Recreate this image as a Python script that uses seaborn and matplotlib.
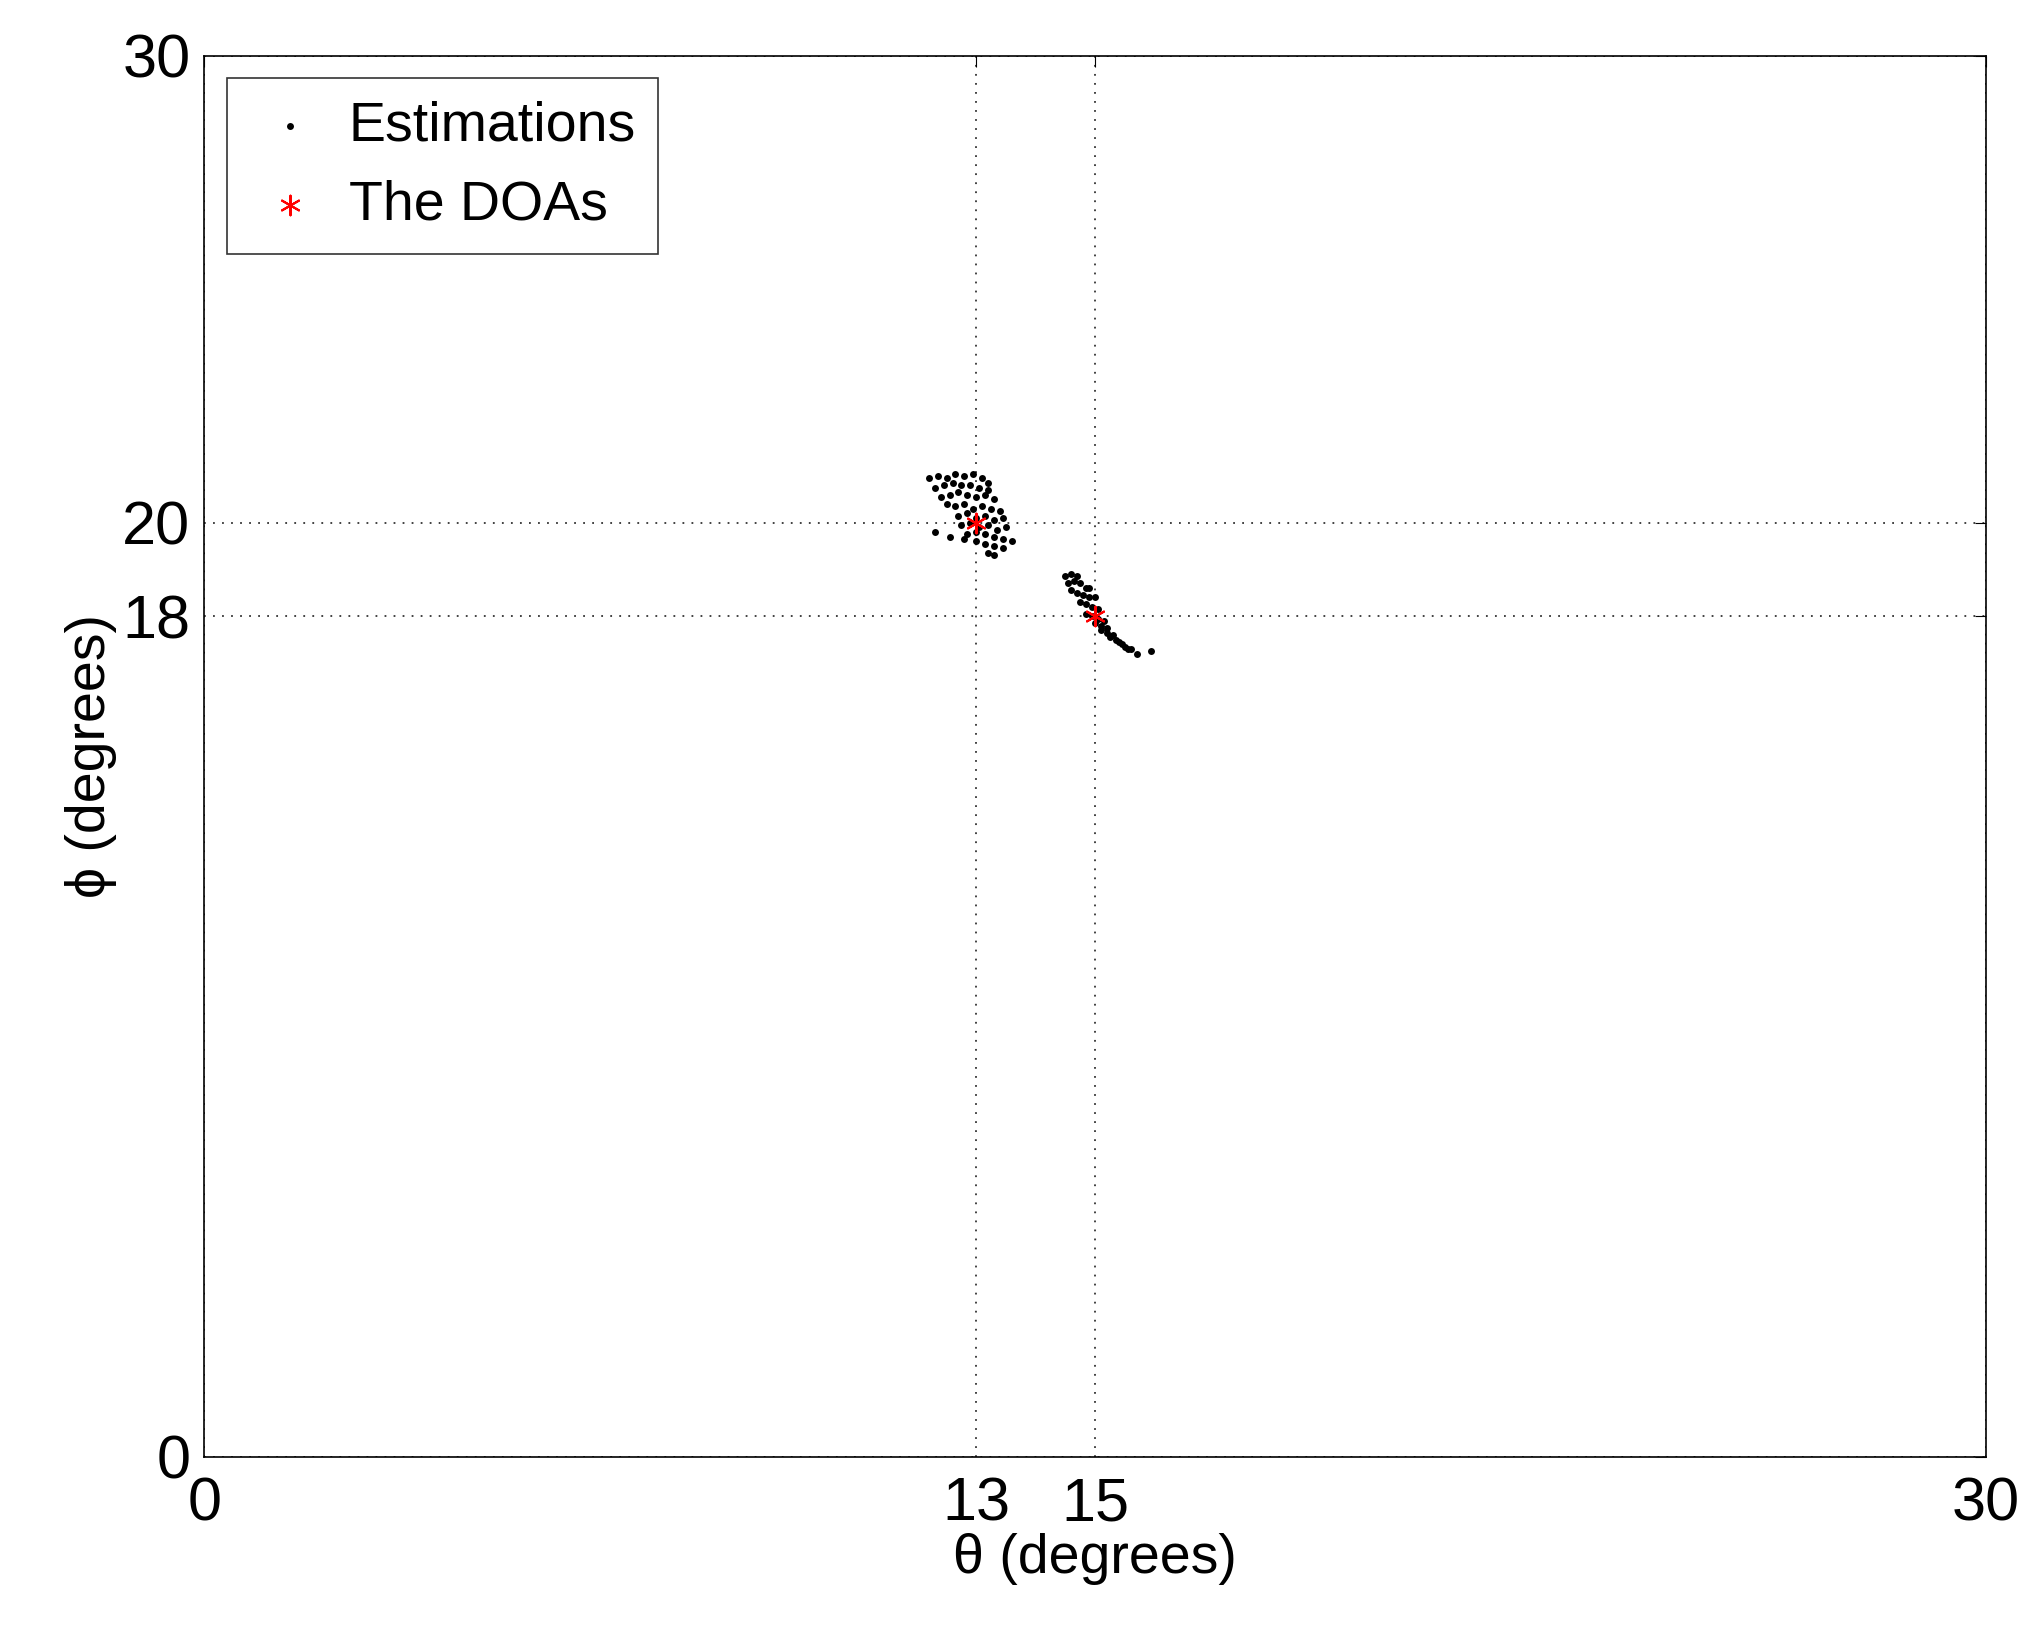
import numpy as np
import pandas as pd
import matplotlib
matplotlib.use("Agg")
import matplotlib.pyplot as plt
import seaborn as sns

# Estimated DOAs
theta_a = [12.2, 12.35, 12.5, 12.65, 12.8, 12.95, 13.1, 13.2, 12.3, 12.45, 12.6, 12.75, 12.9, 13.05,
           13.2, 12.4, 12.55, 12.7, 12.85, 13.0, 13.15, 13.3, 12.5, 12.65, 12.8, 12.95, 13.1, 13.25,
           13.4, 12.7, 12.85, 13.0, 13.15, 13.3, 13.45, 12.75, 12.9, 13.05, 13.2, 13.35, 13.5, 12.85,
           13.0, 13.15, 13.3, 13.45, 13.6, 13.0, 13.15, 13.3, 13.45, 13.2, 13.3, 12.3, 12.55, 12.8]
phi_a = [20.95, 21.0, 20.95, 21.05, 21.0, 21.05, 20.95, 20.85, 20.75, 20.8, 20.85, 20.8, 20.8, 20.75,
         20.7, 20.55, 20.6, 20.65, 20.6, 20.55, 20.6, 20.5, 20.4, 20.35, 20.4, 20.3, 20.35, 20.3,
         20.25, 20.15, 20.2, 20.1, 20.15, 20.05, 20.1, 19.95, 20.0, 19.9, 19.95, 19.85, 19.9, 19.75,
         19.8, 19.75, 19.7, 19.65, 19.6, 19.6, 19.55, 19.5, 19.45, 19.35, 19.3, 19.8, 19.7, 19.65]
theta_b = [14.5, 14.6, 14.7, 14.55, 14.65, 14.75, 14.85, 14.6, 14.7, 14.8, 14.9, 14.75, 14.85, 14.95,
           15.05, 14.85, 14.95, 15.05, 15.15, 15.0, 15.1, 15.2, 15.1, 15.2, 15.3, 15.25, 15.35, 15.4,
           15.45, 15.5, 15.55, 15.6, 15.7, 15.95, 14.9, 15.0]
phi_b = [18.85, 18.9, 18.85, 18.7, 18.75, 18.7, 18.6, 18.55, 18.5, 18.45, 18.4, 18.3, 18.25, 18.2,
         18.15, 18.05, 18.0, 17.95, 17.9, 17.85, 17.8, 17.75, 17.7, 17.65, 17.6, 17.55, 17.5, 17.45,
         17.4, 17.35, 17.3, 17.3, 17.2, 17.25, 18.6, 18.4]
theta_true = [13, 15]
phi_true = [20, 18]

est = pd.DataFrame({"theta": theta_a + theta_b, "phi": phi_a + phi_b})
doa = pd.DataFrame({"theta": theta_true, "phi": phi_true})

sns.set_style("white")
plt.rcParams["font.family"] = ["Liberation Sans", "DejaVu Sans"]
plt.rcParams["text.color"] = "black"
plt.rcParams["axes.labelcolor"] = "black"
plt.rcParams["xtick.color"] = "black"
plt.rcParams["ytick.color"] = "black"

fig = plt.figure(figsize=(20.43, 16.37), dpi=100)
ax = fig.add_axes([0.100, 0.110, 0.872, 0.856])

sns.scatterplot(data=est, x="theta", y="phi", color="black", s=420, edgecolor="black",
                linewidth=0, ax=ax, label="Estimations", zorder=3)
sns.scatterplot(data=doa, x="theta", y="phi", color="red", marker=(6, 2, 0), s=1400,
                linewidth=1.5, ax=ax, label="The DOAs", zorder=4)

ax.set_xlim(0, 30)
ax.set_ylim(0, 30)
ax.set_xticks([0, 13, 15, 30])
ax.set_yticks([0, 18, 20, 30])
ax.grid(True, linestyle=(0, (1, 4)), color="#333333", linewidth=1.3)
for s in ax.spines.values():
    s.set_color("black")
    s.set_linewidth(1.2)
ax.tick_params(labelsize=44, direction="in", length=8, top=True, right=True, color="black")
ax.tick_params(axis="x", pad=14)
ax.tick_params(axis="y", pad=10)
ax.set_xlabel("\u03b8 (degrees)", fontsize=40, labelpad=0)
ax.set_ylabel("\u03d5 (degrees)", fontsize=40, labelpad=4)

h, l = ax.get_legend_handles_labels()
h[0].set_sizes([25])
h[1].set_sizes([200])
leg = ax.legend(h, l, loc="upper left", fontsize=40, frameon=True, fancybox=False,
                edgecolor="black", borderaxespad=0.4, handletextpad=0.3, handlelength=1.5,
                markerscale=1)
leg.get_frame().set_linewidth(1.2)

fig.savefig("out.png", dpi=100)
